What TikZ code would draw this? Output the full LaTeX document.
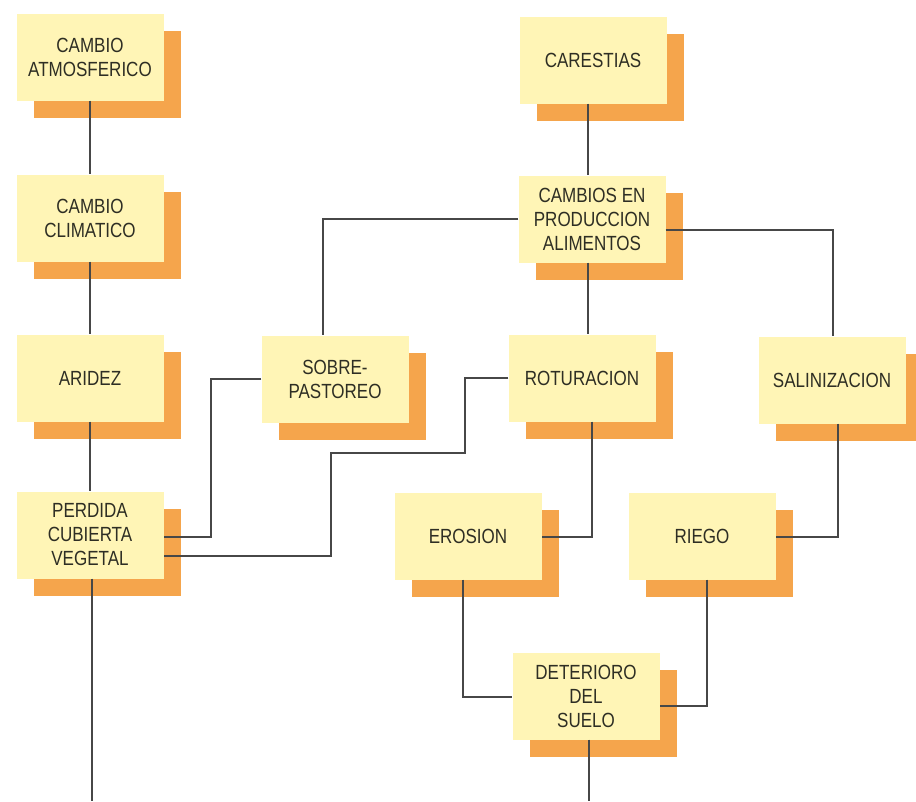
\documentclass[tikz,border=0pt]{standalone}
\usepackage{fontspec}
\setmainfont{Liberation Sans}[FakeStretch=0.83]
\usetikzlibrary{shadows}
\definecolor{boxyellow}{HTML}{FFF5B6}
\definecolor{shorange}{HTML}{F5A54C}
\definecolor{txt}{HTML}{2E2E24}
\definecolor{ln}{HTML}{474747}
\tikzset{
  cbox/.style={rectangle, fill=boxyellow, minimum width=147pt, minimum height=87pt,
    inner sep=0pt, align=center, text=txt,
    font=\fontsize{20.5pt}{24pt}\selectfont,
    drop shadow={fill=shorange, opacity=1, shadow xshift=17pt, shadow yshift=-17pt}},
  conn/.style={draw=ln, line width=1.1pt}
}
\begin{document}
\begin{tikzpicture}[x=1pt,y=-1pt]
\useasboundingbox (0,0) rectangle (916,801);
% nodes
\node[cbox] (atm) at (90,57) {CAMBIO\\ATMOSFERICO};
\node[cbox] (cli) at (90,218) {CAMBIO\\CLIMATICO};
\node[cbox] (ari) at (90,378) {ARIDEZ};
\node[cbox] (per) at (90,535) {PERDIDA\\CUBIERTA\\VEGETAL};
\node[cbox] (car) at (593,60) {CARESTIAS};
\node[cbox] (cam) at (592,219) {CAMBIOS EN\\PRODUCCION\\ALIMENTOS};
\node[cbox] (sob) at (335,379) {SOBRE-\\PASTOREO};
\node[cbox] (rot) at (582,378) {ROTURACION};
\node[cbox] (sal) at (832,380) {SALINIZACION};
\node[cbox] (ero) at (468,536) {EROSION};
\node[cbox] (rie) at (702,536) {RIEGO};
\node[cbox] (det) at (586,696) {DETERIORO\\DEL\\SUELO};
% helper coordinates
\coordinate (j1) at (211,537);
\coordinate (k1) at (465,453);
\coordinate (k2) at (331,556);
\coordinate (m1) at (592,537);
\coordinate (n1) at (838,537);
\coordinate (p1) at (463,697);
\coordinate (q1) at (707,706);
\coordinate (r1) at (589,801);
\coordinate (r2) at (92,801);
\coordinate (c1) at (588,0);
\coordinate (s1) at (323,0);
\coordinate (t1) at (833,230);
% connectors
\draw[conn] (atm.south) -- (cli.north);
\draw[conn] (cli.south) -- (ari.north);
\draw[conn] (ari.south) -- (per.north);
\draw[conn] (r2 |- per.south) -- (r2);
\draw[conn] (c1 |- car.south) -- (c1 |- cam.north);
\draw[conn] (c1 |- cam.south) -- (c1 |- rot.north);
\draw[conn] (cam.west) -| (s1 |- sob.north);
\draw[conn] (t1 -| cam.east) -- (t1) -- (t1 |- sal.north);
\draw[conn] (sob.west) -| (j1) -- (j1 -| per.east);
\draw[conn] (rot.west) -| (k1) -- (k2 |- k1) -- (k2) -- (k2 -| per.east);
\draw[conn] (m1 |- rot.south) -- (m1) -- (m1 -| ero.east);
\draw[conn] (n1 |- sal.south) -- (n1) -- (n1 -| rie.east);
\draw[conn] (p1 |- ero.south) -- (p1) -- (p1 -| det.west);
\draw[conn] (q1 |- rie.south) -- (q1) -- (q1 -| det.east);
\draw[conn] (r1 |- det.south) -- (r1);
\end{tikzpicture}
\end{document}
